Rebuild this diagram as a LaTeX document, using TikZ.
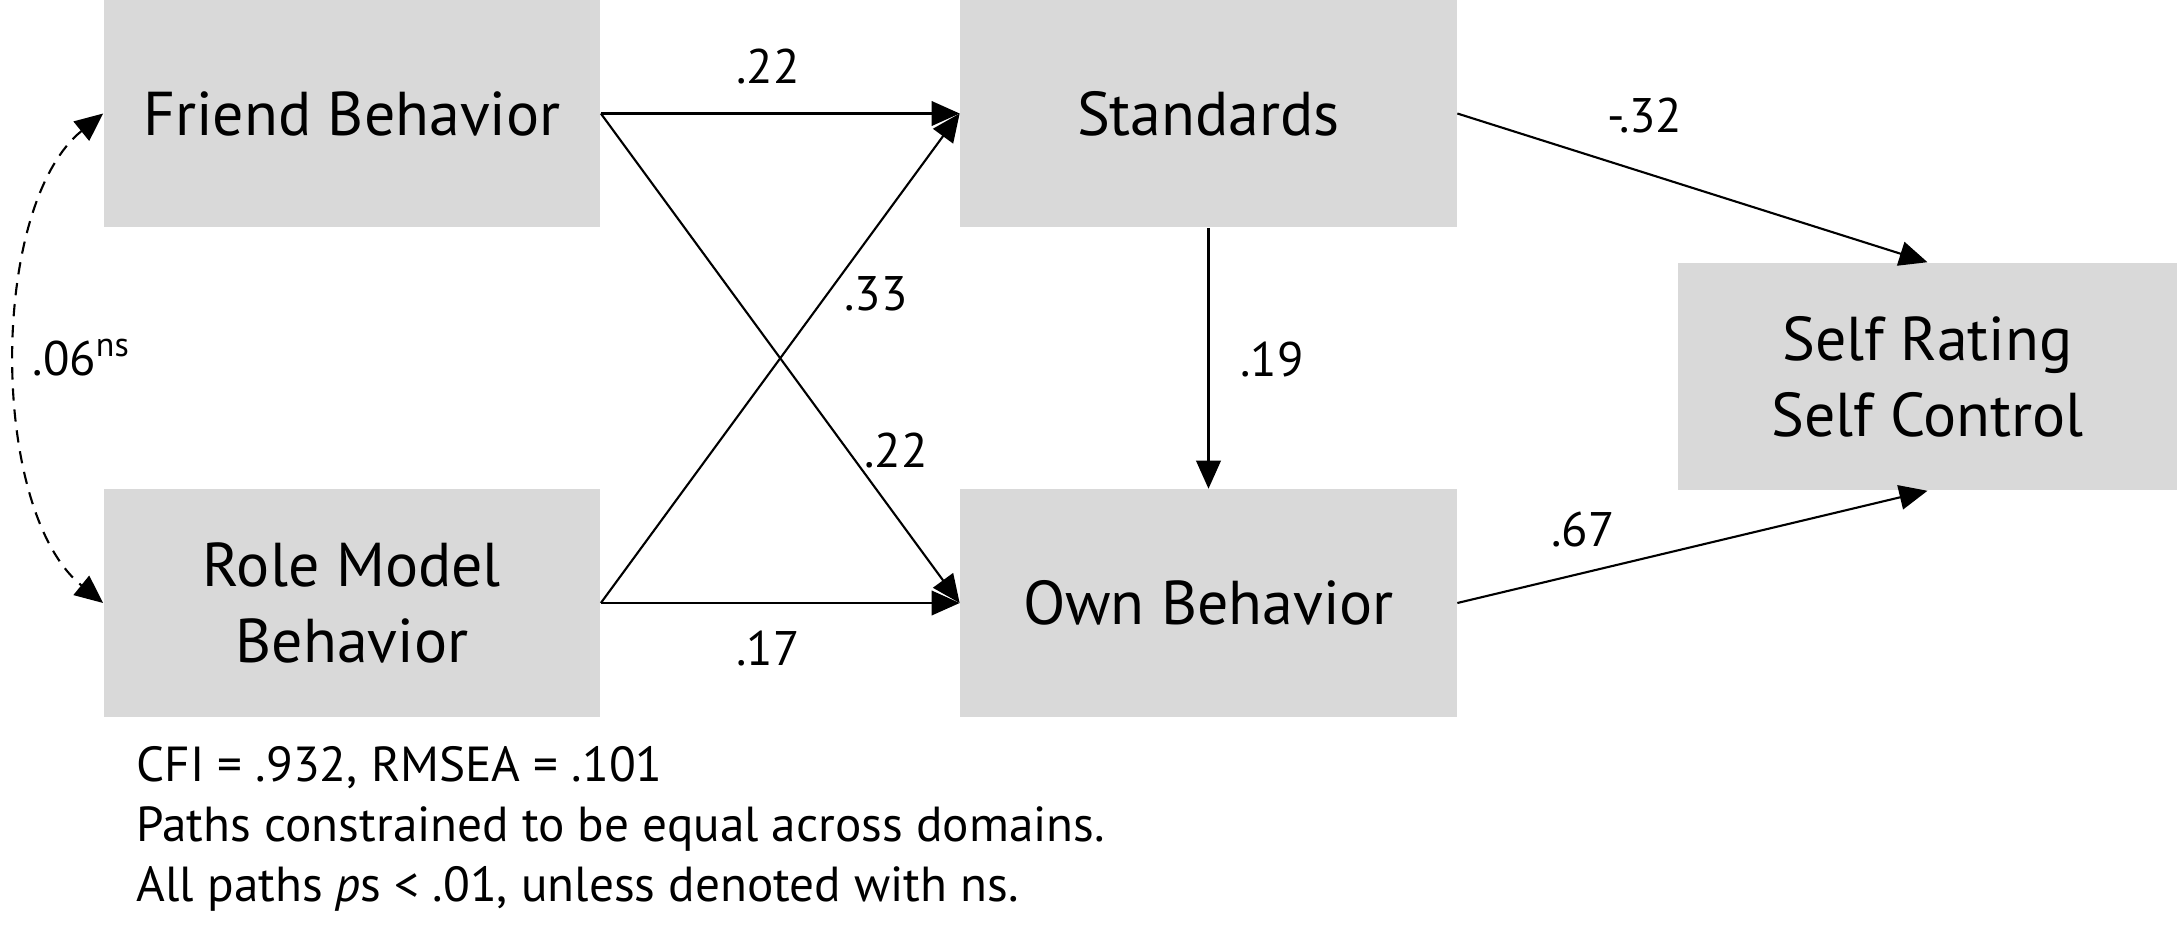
\documentclass[tikz,border=0pt]{standalone}
\usepackage{fontspec}
\setmainfont{PT Sans}
\usetikzlibrary{arrows.meta}
\definecolor{boxgray}{RGB}{217,217,217}
\begin{document}
\begin{tikzpicture}[x=0.01cm,y=-0.01cm,
  box/.style={fill=boxgray, draw=none, minimum width=4.96cm, minimum height=2.27cm,
    inner sep=0pt, align=center, font=\fontsize{17.6}{21.6}\selectfont},
  conn/.style={line width=0.6pt, -{Triangle[length=8pt,width=7pt]}},
  lbl/.style={font=\fontsize{13.8}{16}\selectfont, inner sep=0pt, anchor=base},
  note/.style={font=\fontsize{14}{17}\selectfont, inner sep=0pt, anchor=base west}]
\useasboundingbox (0,0) rectangle (2177,948);
\node[box] (fb) at (352,113.5) {Friend Behavior};
\node[box] (rb) at (352,603) {Role Model\\Behavior};
\node[box] (st) at (1208.5,113.5) {Standards};
\node[box] (ob) at (1208.5,603) {Own Behavior};
\node[box, minimum width=4.99cm] (sr) at (1927.5,376.5) {Self Rating\\Self Control};

\draw[conn] (fb.east) -- (st.west);
\draw[conn] (fb.east) -- (ob.west);
\draw[conn] (rb.east) -- (st.west);
\draw[conn] (rb.east) -- (ob.west);
\draw[conn] (st.south) -- (ob.north);
\draw[conn] (st.east) -- (sr.north);
\draw[conn] (ob.east) -- (sr.south);
\draw[line width=0.6pt, dash pattern=on 3.5pt off 2.5pt,
  {Triangle[length=8pt,width=7pt]}-{Triangle[length=8pt,width=7pt]}]
  (fb.west) to[out=219, in=141, looseness=0.77] (rb.west);

\node[lbl] (l1) at (768,83) {.22};
\node[lbl] (l2) at (876,310) {.33};
\node[lbl] (l3) at (896,467) {.22};
\node[lbl] (l4) at (768,665) {.17};
\node[lbl] (l5) at (1272,376) {.19};
\node[lbl] (l6) at (1645,132) {-.32};
\node[lbl] (l7) at (1583,546) {.67};
\node[lbl, anchor=base west] (l8) at (32,375) {.06\textsuperscript{ns}};

\node[note] (n1) at (136,781) {CFI = .932, RMSEA = .101};
\node[note] (n2) at (136,841) {Paths constrained to be equal across domains.};
\node[note] (n3) at (136,901) {All paths \textit{p}s < .01, unless denoted with ns.};
\end{tikzpicture}
\end{document}
